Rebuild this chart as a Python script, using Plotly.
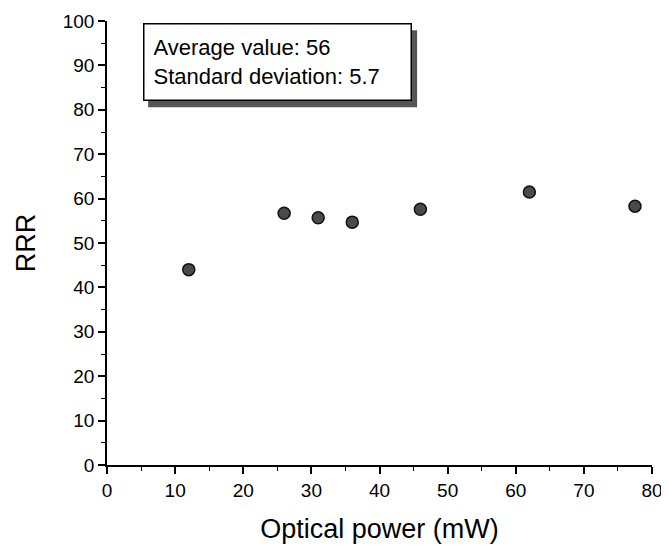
import plotly.graph_objects as go

# optical power (mW) and measured RRR
power_mw = [12, 26, 31, 36, 46, 62, 77.5]
rrr = [44, 56.7, 55.7, 54.7, 57.6, 61.5, 58.3]

x_ticks = [0, 10, 20, 30, 40, 50, 60, 70, 80]
y_ticks = [0, 10, 20, 30, 40, 50, 60, 70, 80, 90, 100]

box_text = "Average value: 56<br>Standard deviation: 5.7"

FONT = "Liberation Sans, Arial, sans-serif"

fig = go.Figure()

fig.add_trace(go.Scatter(
    x=power_mw,
    y=rrr,
    mode="markers",
    marker=dict(size=12, color="#4a4a4a", line=dict(color="#111111", width=1.5)),
    showlegend=False,
))

axis_common = dict(
    showgrid=False,
    zeroline=False,
    showline=True,
    linecolor="black",
    linewidth=1.5,
    ticks="outside",
    ticklen=7,
    tickwidth=1.5,
    tickcolor="black",
    tickfont=dict(family=FONT, size=19, color="black"),
    minor=dict(ticks="outside", ticklen=4, tickwidth=1.2, tickcolor="black", dtick=5),
    mirror=False,
    automargin=False,
)

fig.update_xaxes(
    range=[0, 80],
    tickvals=x_ticks,
    title=dict(text="Optical power (mW)", font=dict(family=FONT, size=27, color="black"), standoff=20),
    **axis_common,
)
fig.update_yaxes(
    range=[0, 100],
    tickvals=y_ticks,
    title=dict(text="RRR", font=dict(family=FONT, size=27, color="black"), standoff=19),
    **axis_common,
)

# drop shadow behind the text box
fig.add_shape(
    type="rect",
    xref="x", yref="y",
    xsizemode="pixel", ysizemode="pixel",
    xanchor=5.3, yanchor=99.5,
    x0=5, x1=274, y0=-7, y1=-84,
    fillcolor="#555555", line=dict(width=0),
    layer="above",
)
fig.add_annotation(
    x=5.3, y=99.5, xref="x", yref="y",
    xanchor="left", yanchor="top",
    text=box_text, showarrow=False,
    font=dict(family=FONT, size=22, color="black"),
    align="left", width=248, height=57, borderpad=9,
    bgcolor="white", bordercolor="black", borderwidth=1.5,
)

# page body adds an 8px offset, so margins are shifted to compensate
fig.update_layout(
    width=669, height=560,
    margin=dict(l=99, r=25, t=13, b=103),
    plot_bgcolor="white",
    paper_bgcolor="white",
    font=dict(family=FONT, color="black"),
)

fig.write_html("out.html")
